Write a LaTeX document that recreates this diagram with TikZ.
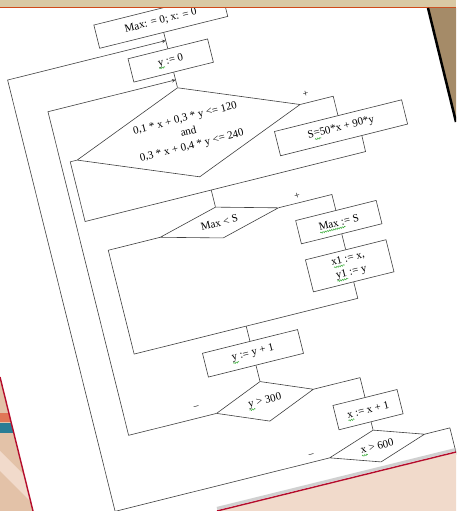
\documentclass[tikz,border=0pt]{standalone}
\usepackage{fontspec}
\setmainfont{Liberation Serif}
\usetikzlibrary{shapes.geometric,arrows,decorations.pathmorphing}

\definecolor{bandtan}{HTML}{D9C9A4}
\definecolor{bandline}{HTML}{D04A1A}
\definecolor{deskbrown}{HTML}{A58B68}
\definecolor{slidepeach}{HTML}{F1DACB}
\definecolor{slidetan}{HTML}{E3C2A8}
\definecolor{slidered}{HTML}{B50D2C}
\definecolor{stripeorange}{HTML}{E07656}
\definecolor{stripeteal}{HTML}{2A7D95}
\definecolor{spellgreen}{HTML}{3FAF3F}

\begin{document}
\begin{tikzpicture}[
  x=1pt, y=1pt,
  block/.style = {rectangle, draw=black!75, line width=0.6pt, fill=white,
                  inner sep=2pt, align=center, font=\fontsize{11}{14}\selectfont},
  cond/.style  = {diamond, draw=black!75, line width=0.6pt, fill=white,
                  inner sep=0pt, align=center, font=\fontsize{11}{14}\selectfont},
  flow/.style  = {draw=black!75, line width=0.6pt},
  arrow/.style = {flow, ->, >=stealth},
  sign/.style  = {inner sep=0pt, font=\fontsize{10}{12}\selectfont},
  wave/.style  = {draw=spellgreen, line width=0.5pt, decorate,
                  decoration={snake, amplitude=0.7pt, segment length=2.2pt}}
]
\clip (0,0) rectangle (456,511);
\fill[white] (0,0) rectangle (456,511);

% the sheet, photographed at a slant
\begin{scope}[shift={(0pt,511pt)}, rotate=14, transform shape]

\node[block, minimum width=132pt, minimum height=24pt] (start) at (151,-59) {Max: = 0; x: = 0};
\node[block, minimum width=82pt,  minimum height=24pt] (yzero) at (151,-100) {y := 0};
\node[cond, minimum width=230pt, minimum height=92pt, aspect=2.5] (test) at (151,-174)
     {0,1 * x + 0,3 * y <= 120\\ and\\ 0,3 * x + 0,4 * y <= 240};
\node[block, minimum width=131pt, minimum height=25pt] (sbox) at (300,-206.5) {S=50*x + 90*y};
\node[cond, minimum width=122pt, minimum height=32pt, aspect=3.8] (maxtest) at (159,-269) {Max < S};
\node[block, minimum width=83pt, minimum height=24pt] (maxset) at (275,-297.5) {Max := S};
\node[block, minimum width=83pt, minimum height=33pt] (keep) at (275,-342.5) {x1 := x,\\ y1 := y};
\node[block, minimum width=98pt, minimum height=24.5pt] (yinc) at (160,-404) {y := y + 1};
\node[cond, minimum width=100pt, minimum height=41pt, aspect=2.4] (ytest) at (160,-453.5) {y > 300};
\node[block, minimum width=66pt, minimum height=25pt] (xinc) at (258,-486.5) {x := x + 1};
\node[cond, minimum width=98pt, minimum height=33pt, aspect=3] (xtest) at (258,-524) {x > 600};

\coordinate (xjoin) at (151,-79.5);
\coordinate (yjoin) at (151,-120);
\coordinate (xl1) at (-12,-524);
\coordinate (xl2) at (-12,-79.5);
\coordinate (yl1) at (19.5,-453.5);
\coordinate (yl2) at (19.5,-120);
\coordinate (t1) at (300,-174);
\coordinate (t2) at (29,-174);
\coordinate (t3) at (29,-235.5);
\coordinate (t4) at (318,-235.5);
\coordinate (m1) at (159,-235.5);
\coordinate (u1) at (275,-269);
\coordinate (u2) at (44.5,-269);
\coordinate (u3) at (44.5,-376);
\coordinate (u4) at (275,-376);
\coordinate (m2) at (160,-376);
\coordinate (w1) at (258,-453.5);
\coordinate (e1) at (333,-524);
\coordinate (e2) at (333,-570);

\draw[flow] (start) -- (yzero);
\draw[flow] (yzero) -- (test.north);
\draw[flow] (test.east) -- (t1) -- (sbox.north);
\draw[flow] (test.west) -- (t2) -- (t3) -- (t4) -- (sbox.325);
\draw[flow] (m1) -- (maxtest.north);
\draw[flow] (maxtest.east) -- (u1) -- (maxset.north);
\draw[flow] (maxset) -- (keep);
\draw[flow] (maxtest.west) -- (u2) -- (u3) -- (u4) -- (keep.south);
\draw[flow] (m2) -- (yinc.north);
\draw[flow] (yinc) -- (ytest.north);
\draw[flow] (ytest.east) -- (w1) -- (xinc.north);
\draw[flow] (xinc) -- (xtest.north);
\draw[flow] (xtest.east) -- (e1) -- (e2);
\draw[arrow] (ytest.west) -- (yl1) -- (yl2) -- (yjoin);
\draw[arrow] (xtest.west) -- (xl1) -- (xl2) -- (xjoin);

\node[sign] (plus1) at (274,-165) {+};
\node[sign] (plus2) at (241,-262) {+};
\node[sign] (minus1) at (92,-443) {–};
\node[sign] (minus2) at (192,-517) {–};

% spell-check marks of the word processor
\draw[wave] (138,-105) -- (144,-105);
\draw[wave] (272,-211.5) -- (278.5,-211.5);
\draw[wave] (254.5,-303.5) -- (280.5,-303.5);
\draw[wave] (259.5,-340.5) -- (270.5,-340.5);
\draw[wave] (259.5,-354.5) -- (270.5,-354.5);
\draw[wave] (138.5,-409) -- (144.5,-409);
\draw[wave] (143,-458.5) -- (149,-458.5);
\draw[wave] (236.5,-492.5) -- (242.5,-492.5);
\draw[wave] (241,-530) -- (247,-530);
\end{scope}

% slide and desk round the sheet
\fill[bandtan] (0,511) rectangle (456,503.5);
\draw[bandline, line width=1.3pt] (0,503.3) -- (456,503.3);
\fill[deskbrown] (428,503) -- (456,503) -- (456,389) -- cycle;
\draw[black, line width=2.5pt] (428,503) -- (456,389);

\draw[black!30, line width=3pt, opacity=0.6] (217,2.6) -- (456,61.6);
\fill[slidepeach] (217,0) -- (456,59) -- (456,0) -- cycle;
\draw[slidered, line width=1.4pt] (217,0) -- (456,59);

\begin{scope}
  \clip (0,134) -- (33,0) -- (0,0) -- cycle;
  \fill[slidetan] (0,0) rectangle (40,140);
  \fill[slidepeach] (0,60) -- (40,20) -- (40,0) -- (0,40) -- cycle;
  \fill[stripeorange] (0,89) rectangle (40,98);
  \fill[stripeteal] (0,78) rectangle (40,88);
\end{scope}
\draw[slidered, line width=1.4pt] (0,134) -- (33,0);
\end{tikzpicture}
\end{document}
